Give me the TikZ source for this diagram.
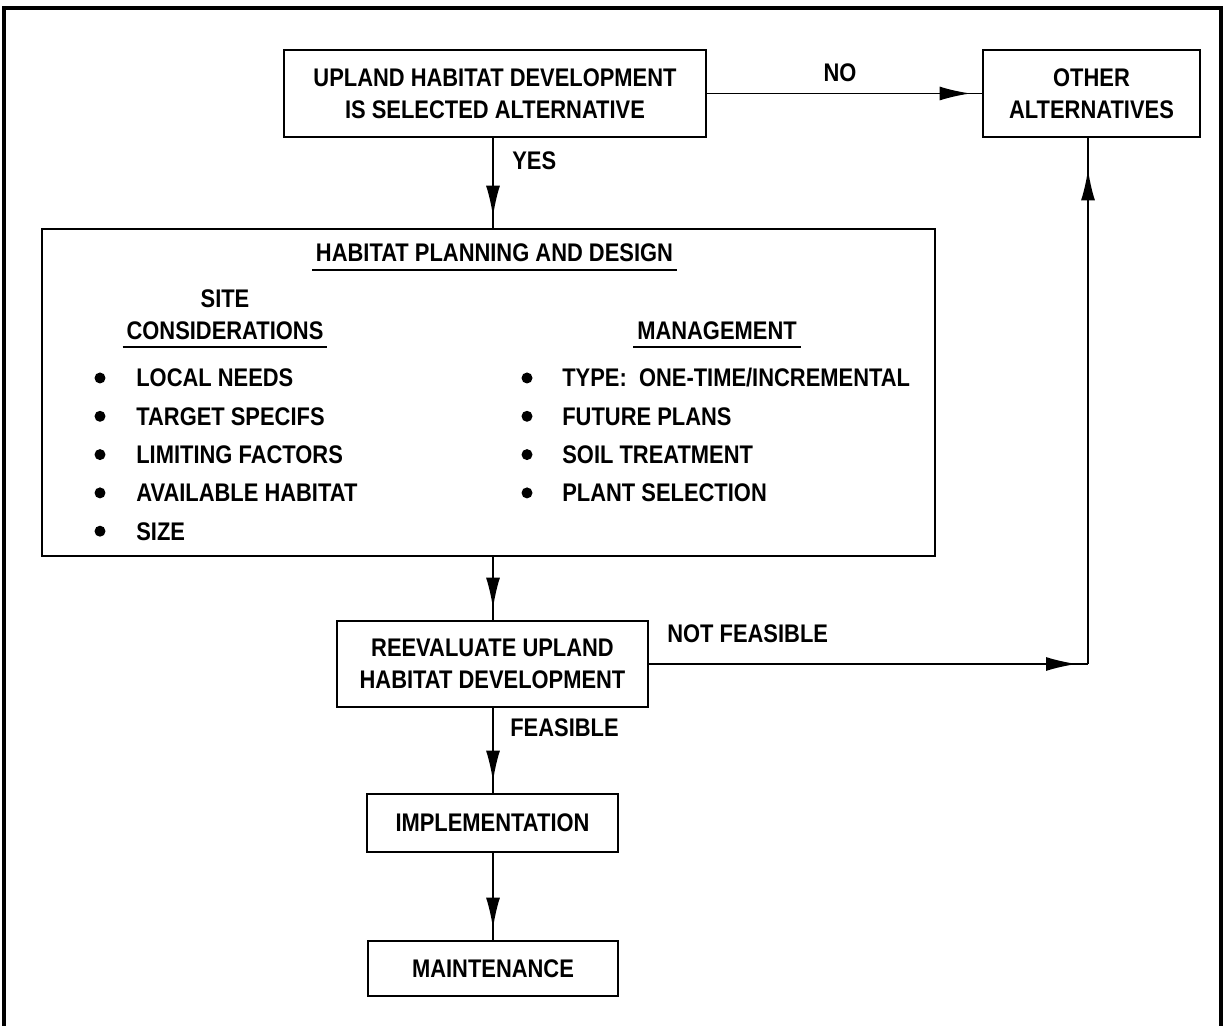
\documentclass[tikz,border=0pt]{standalone}
\usepackage{fontspec}
\setmainfont{Liberation Sans}[FakeStretch=0.86]
\usetikzlibrary{arrows.meta,decorations.markings}

\begin{document}
\begin{tikzpicture}[x=0.02cm,y=-0.02cm,
  every node/.style={font=\fontsize{14.5}{18}\selectfont\bfseries, inner sep=0pt},
  box/.style={draw, line width=1.6pt, align=center},
  flow/.style={line width=1.1pt, postaction={decorate},
    decoration={markings, mark=at position -0.22cm with {\arrow{Latex[length=0.62cm,width=0.28cm]}}}},
  flowup/.style={line width=1.1pt, postaction={decorate},
    decoration={markings, mark=at position -0.62cm with {\arrow{Latex[length=0.62cm,width=0.28cm]}}}},
  uline/.style={line width=1pt},
  bul/.style={circle, fill, minimum size=0.22cm}]

\useasboundingbox (0,0) rectangle (1225,1026);
\draw[line width=2.2pt] (4,1030) -- (4,8) -- (1221,8) -- (1221,1030);

\coordinate (spine) at (493,0);
\coordinate (nf) at (1088,660);

\node (sel) at (495,93.5)[box, minimum width=8.44cm, minimum height=1.74cm]{UPLAND HABITAT DEVELOPMENT\\IS SELECTED ALTERNATIVE};
\node (other) at (1091.5,93.5)[box, minimum width=4.34cm, minimum height=1.74cm]{OTHER\\ALTERNATIVES};
\node (plan) at (488.5,392.5)[box, minimum width=17.86cm, minimum height=6.54cm]{};
\node (reeval) at (492.5,664)[box, minimum width=6.22cm, minimum height=1.72cm]{REEVALUATE UPLAND\\HABITAT DEVELOPMENT};
\node (impl) at (492.5,823)[box, minimum width=5.02cm, minimum height=1.16cm]{IMPLEMENTATION};
\node (maint) at (493,968.5)[box, minimum width=5.0cm, minimum height=1.1cm]{MAINTENANCE};

% inside the planning box
\node (title) at (494.5,262)[anchor=base]{HABITAT PLANNING AND DESIGN};
\draw[uline] ([xshift=-2pt,yshift=-0.16cm]title.base west) -- ([xshift=2pt,yshift=-0.16cm]title.base east);
\node (site) at (225,308)[anchor=base]{SITE};
\node (cons) at (225,340)[anchor=base]{CONSIDERATIONS};
\draw[uline] ([xshift=-2pt,yshift=-0.14cm]cons.base west) -- ([xshift=2pt,yshift=-0.14cm]cons.base east);
\node (mgmt) at (717,340)[anchor=base]{MANAGEMENT};
\draw[uline] ([xshift=-2pt,yshift=-0.14cm]mgmt.base west) -- ([xshift=2pt,yshift=-0.14cm]mgmt.base east);

\node (bl1) at (100,378)[bul]{};
\node (l1) at (136,387)[anchor=base west]{LOCAL NEEDS};
\node (bl2) at (100,416.3)[bul]{};
\node (l2) at (136,425.3)[anchor=base west]{TARGET SPECIFS};
\node (bl3) at (100,454.6)[bul]{};
\node (l3) at (136,463.6)[anchor=base west]{LIMITING FACTORS};
\node (bl4) at (100,492.9)[bul]{};
\node (l4) at (136,501.9)[anchor=base west]{AVAILABLE HABITAT};
\node (bl5) at (100,531.2)[bul]{};
\node (l5) at (136,540.2)[anchor=base west]{SIZE};

\node (br1) at (527,378)[bul]{};
\node (r1) at (562,387)[anchor=base west]{TYPE:\ \ ONE-TIME/INCREMENTAL};
\node (br2) at (527,416.3)[bul]{};
\node (r2) at (562,425.3)[anchor=base west]{FUTURE PLANS};
\node (br3) at (527,454.6)[bul]{};
\node (r3) at (562,463.6)[anchor=base west]{SOIL TREATMENT};
\node (br4) at (527,492.9)[bul]{};
\node (r4) at (562,501.9)[anchor=base west]{PLANT SELECTION};

% connectors
\draw[flow] (sel.east) -- (other.west);
\node (no) at (840,82)[anchor=base]{NO};
\draw[flow] (sel.south -| spine) -- (plan.north -| spine);
\node (yes) at (512,170)[anchor=base west]{YES};
\draw[flow] (plan.south -| spine) -- (reeval.north -| spine);
\draw[flow] (reeval.east) -- (reeval.east -| nf);
\draw[flowup] (reeval.east -| nf) -- (other.south -| nf);
\node (nfeas) at (667,643)[anchor=base west]{NOT FEASIBLE};
\draw[flow] (reeval.south -| spine) -- (impl.north -| spine);
\node (feas) at (510,737)[anchor=base west]{FEASIBLE};
\draw[flow] (impl.south -| spine) -- (maint.north -| spine);

\end{tikzpicture}
\end{document}
